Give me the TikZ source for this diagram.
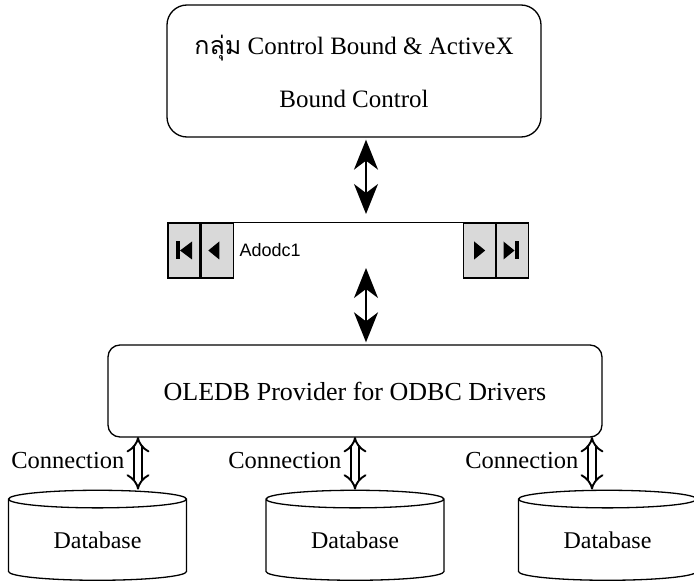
\documentclass[tikz,border=0pt]{standalone}
\usepackage{fontspec}
\setmainfont{Liberation Serif}
\newfontfamily\thaifont[Script=Thai]{Loma}
\newfontfamily\uifont{Liberation Sans}
\usetikzlibrary{positioning,arrows.meta,shapes.geometric}
\begin{document}
\begin{tikzpicture}[x=1pt,y=-1pt,
    line width=1.3pt,
    box/.style={draw,rounded corners=20pt,align=center,inner sep=0pt,
                font=\fontsize{25}{53}\selectfont},
    navbtn/.style={draw,fill=gray!30,minimum width=32pt,minimum height=55pt,inner sep=0pt},
    db/.style={draw,cylinder,shape border rotate=90,aspect=0.2,minimum width=178pt,
               minimum height=90pt,inner sep=0pt,font=\fontsize{24}{28}\selectfont},
    link/.style={{Stealth[length=30pt,width=24pt,inset=9pt]}-{Stealth[length=30pt,width=24pt,inset=9pt]},
                 line width=1.6pt},
    conn/.style={{Implies}-{Implies},double,double distance=6pt,line width=1.9pt},
    lbl/.style={font=\fontsize{24.5}{28}\selectfont,anchor=east,inner sep=0pt}]
  \useasboundingbox (0,0) rectangle (694,588);
  % control group
  \node[box,minimum width=374pt,minimum height=132pt] (group) at (354,71)
    {{\thaifont กลุ่ม} Control Bound \& ActiveX\\Bound Control};
  % ADO data control bar
  \node[navbtn] (first) at (184,250.5) {};
  \node[navbtn,right=0pt of first] (prev) {};
  \node[navbtn] (last) at (512.5,250.5) {};
  \node[navbtn,left=0pt of last] (next) {};
  \draw (first.north west) -- (last.north east);
  \node[font=\uifont\fontsize{18}{20}\selectfont,anchor=west,inner sep=0pt] (adodc)
    at ([xshift=5pt]prev.east) {Adodc1};
  \fill ([xshift=-4pt]first.center) -- ++(12pt,9pt) -- ++(0,-18pt) -- cycle;
  \fill ([xshift=-8pt,yshift=-9pt]first.center) rectangle ++(4pt,18pt);
  \fill ([xshift=-9pt]prev.center) -- ++(11pt,9pt) -- ++(0,-18pt) -- cycle;
  \fill ([xshift=6pt]next.center) -- ++(-11pt,9pt) -- ++(0,-18pt) -- cycle;
  \fill ([xshift=2pt]last.center) -- ++(-11pt,9pt) -- ++(0,-18pt) -- cycle;
  \fill ([xshift=2pt,yshift=-9pt]last.center) rectangle ++(4pt,18pt);
  % provider
  \node[box,rounded corners=12pt,minimum width=494pt,minimum height=92pt,
        font=\fontsize{26}{30}\selectfont] (provider)
    at (355,391) {OLEDB Provider for ODBC Drivers};
  \coordinate (bartop) at (366,223);
  \coordinate (barlow) at (366,268);
  \draw[link,shorten <=2pt,shorten >=9pt] (group.south -| bartop) -- (bartop);
  \draw[link,shorten >=2pt] (barlow) -- (barlow |- provider.north);
  % databases
  \node[db] (db1) at (97.5,540) {Database};
  \node[db] (db2) at (355,540) {Database};
  \node[db] (db3) at (607.5,540) {Database};
  \foreach \i/\x in {1/138,2/355,3/592}{
    \coordinate (c\i) at (\x,437);
    \draw[conn] (c\i) -- (c\i |- db\i.north);
    \node[lbl] (conn\i) at (\x-13,461) {Connection};
  }
\end{tikzpicture}
\end{document}
